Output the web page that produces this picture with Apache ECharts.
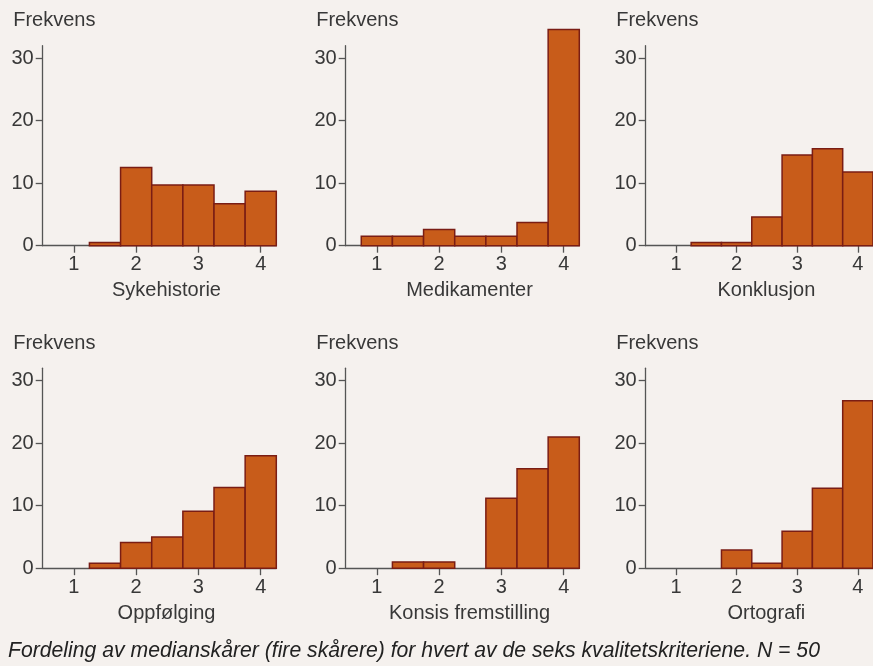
<!DOCTYPE html>
<html>
<head>
<meta charset="utf-8">
<script src="https://cdn.jsdelivr.net/npm/echarts@6/dist/echarts.min.js"></script>
<style>
html,body{margin:0;padding:0;background:#f5f1ee;}
#chart{width:873px;height:666px;}
</style>
</head>
<body>
<div id="chart"></div>
<script>
// Bin centres (median score) and frequencies
const bins = [1, 1.5, 2, 2.5, 3, 3.5, 4];
const sykehistorie = [0, 0.5, 12.5, 9.7, 9.7, 6.7, 8.7];
const medikamenter = [1.5, 1.5, 2.6, 1.5, 1.5, 3.7, 34.6];
const konklusjon = [0, 0.5, 0.5, 4.6, 14.5, 15.5, 11.8];
const oppfolging = [0, 0.8, 4.1, 5.0, 9.1, 12.9, 18.0];
const konsis = [0, 1.0, 1.0, 0, 11.2, 15.9, 21.0];
const ortografi = [0, 0, 2.9, 0.8, 5.9, 12.8, 26.8];
const panelNames = ['Sykehistorie', 'Medikamenter', 'Konklusjon', 'Oppfølging', 'Konsis fremstilling', 'Ortografi'];
const panelData = [sykehistorie, medikamenter, konklusjon, oppfolging, konsis, ortografi];
const xTicks = [1, 2, 3, 4];
const yTicks = [0, 10, 20, 30];
const yTitle = 'Frekvens';
const caption = 'Fordeling av medianskårer (fire skårere) for hvert av de seks kvalitetskriteriene. N = 50';
const BIN_WIDTH = 0.5;

const FONT = '"Liberation Sans", Arial, sans-serif';
const TEXT = '#383838';
const AXIS = '#555555';
const lefts = [42.7, 345.7, 645.7];
const tops = [45.7, 368.2];
const GW = 233.6, GH = 200;

const grids = [], xAxes = [], yAxes = [], series = [], graphics = [];
panelNames.forEach((name, i) => {
  const col = i % 3, row = Math.floor(i / 3);
  grids.push({left: lefts[col], top: tops[row], width: GW, height: GH, containLabel: false});
  xAxes.push({
    type: 'value', gridIndex: i, min: 0.5, max: 4.25,
    name: name, nameLocation: 'middle', nameGap: 35,
    nameTextStyle: {fontFamily: FONT, fontSize: 20, color: TEXT, padding: [0, 0, 0, 14]},
    axisLine: {show: true, onZero: false, lineStyle: {color: AXIS, width: 1.3}},
    axisTick: {show: true, inside: false, length: 7, lineStyle: {color: AXIS, width: 1.3}, customValues: xTicks},
    axisLabel: {fontFamily: FONT, fontSize: 20, color: TEXT, margin: 9, customValues: xTicks},
    splitLine: {show: false}
  });
  yAxes.push({
    type: 'value', gridIndex: i, min: 0, max: 32,
    axisLine: {show: true, onZero: false, lineStyle: {color: AXIS, width: 1.3}},
    axisTick: {show: true, inside: false, length: 7, lineStyle: {color: AXIS, width: 1.3}, customValues: yTicks},
    axisLabel: {fontFamily: FONT, fontSize: 20, color: TEXT, margin: 9, customValues: yTicks},
    splitLine: {show: false}
  });
  series.push({
    type: 'custom', xAxisIndex: i, yAxisIndex: i, clip: false,
    data: bins.map((b, k) => [b, panelData[i][k]]),
    renderItem: function (params, api) {
      const x = api.value(0), y = api.value(1);
      if (!y) return null;
      const p0 = api.coord([x - BIN_WIDTH / 2, y]);
      const p1 = api.coord([x + BIN_WIDTH / 2, 0]);
      return {
        type: 'rect',
        shape: {x: p0[0], y: p0[1], width: p1[0] - p0[0], height: p1[1] - p0[1]},
        style: {fill: '#c85c1a', stroke: '#7a1d14', lineWidth: 1.5}
      };
    }
  });
  graphics.push({
    type: 'text', left: lefts[col] - 29.5, top: tops[row] - 35,
    style: {text: yTitle, font: '20px ' + FONT, fill: TEXT}
  });
});
graphics.push({
  type: 'text', left: 8, top: 641,
  style: {text: caption, font: 'italic 21.2px ' + FONT, fill: '#222222'}
});

const chart = echarts.init(document.getElementById('chart'), null, {renderer: 'canvas'});
chart.setOption({
  backgroundColor: '#f5f1ee',
  animation: false,
  grid: grids, xAxis: xAxes, yAxis: yAxes, series: series, graphic: graphics
});
</script>
</body>
</html>
